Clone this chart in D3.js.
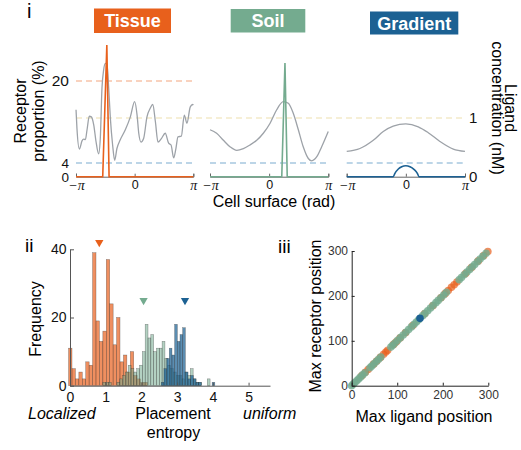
<!DOCTYPE html>
<html>
<head>
<meta charset="utf-8">
<script src="https://cdn.jsdelivr.net/npm/d3@7"></script>
<style>
  body { margin: 0; background: #fff; }
  svg { display: block; font-family: "Liberation Sans", Arial, sans-serif; }
</style>
</head>
<body>
<svg id="fig" width="521" height="450"></svg>
<script>
'use strict'

const PI = Math.PI;

// ---- panel i : receptor / ligand profiles on the cell surface ----
const conditions = ['Tissue', 'Soil', 'Gradient'];
const thetaTicks = [-PI, 0, PI];
const thetaTickLabels = ['\u2212\u03c0', '0', '\u03c0'];
const receptorTicks = [0, 4, 20];
const ligandTicks = [0, 1];

const tissueLigandTheta = [-3.14, -3.09, -2.96, -2.82, -2.73, -2.64, -2.55, -2.43, -2.32, -2.19, -2.07, -1.93,
  -1.84, -1.75, -1.66, -1.57, -1.48, -1.39, -1.30, -1.18, -1.07, -0.95, -0.77, -0.50, -0.23, 0.00, 0.13, 0.22,
  0.34, 0.48, 0.66, 0.84, 0.97, 1.11, 1.25, 1.43, 1.64, 1.82, 1.95, 2.09, 2.21, 2.32, 2.50, 2.66, 2.80, 2.98,
  3.11, 3.14];
const tissueLigand = [1.14, 0.82, 0.47, 0.61, 0.64, 0.63, 0.80, 1.03, 1.02, 0.88, 0.60, 0.39,
  0.65, 1.51, 1.82, 1.93, 1.90, 1.51, 0.99, 0.54, 0.28, 0.48, 0.63, 0.80, 1.02, 1.28, 1.05, 0.74,
  0.59, 0.65, 1.02, 1.17, 1.23, 0.94, 0.59, 0.65, 0.74, 0.57, 0.54, 0.32, 0.48, 0.68, 0.69, 1.05, 0.91, 1.19,
  1.23, 1.22];
const tissueReceptorTheta = [-3.14, -1.71, -1.49, -1.37, 3.14];
const tissueReceptor = [0, 0, 27, 0, 0];

const soilLigandTheta = [-3.14, -2.79, -2.43, -2.08, -1.72, -1.37, -1.02, -0.66, -0.31, 0.05, 0.40, 0.75,
  1.02, 1.28, 1.55, 1.81, 2.08, 2.26, 2.53, 2.79, 3.14];
const soilLigand = [0.80, 0.74, 0.62, 0.51, 0.45, 0.48, 0.54, 0.62, 0.74, 0.91, 1.14, 1.28,
  1.25, 1.08, 0.80, 0.51, 0.31, 0.27, 0.34, 0.51, 0.77];
const soilReceptorTheta = [-3.14, 0.67, 0.84, 0.96, 3.14];
const soilReceptor = [0, 0, 23.5, 0, 0];

const gradientLigandTheta = [-3.14, -2.44, -1.73, -1.20, -0.67, 0, 0.66, 1.19, 1.81, 2.52, 3.14];
const gradientLigand = [0.43, 0.48, 0.62, 0.77, 0.86, 0.90, 0.85, 0.75, 0.60, 0.47, 0.43];
const gradientReceptorTheta = [-3.14, -0.67, -0.58, -0.40, -0.22, 0, 0.22, 0.43, 0.61, 0.70, 3.14];
const gradientReceptor = [0, 0, 1.0, 2.25, 2.92, 3.21, 2.92, 2.15, 1.0, 0, 0];

const receptorThresholdHigh = 20;   // orange dashed, tissue only
const receptorThresholdLow = 4;     // blue dashed
const ligandReference = 1;          // yellow dashed

// ---- panel ii : placement entropy histograms ----
const tissueBinStart = -0.04, tissueBinWidth = 0.096;
const tissueCounts = [11, 5, 2, 4, 2, 7, 6, 39, 19, 13, 16, 37, 24, 12, 20, 7, 9, 4, 10, 3, 2, 1, 1];
const soilBinStart = 0.92, soilBinWidth = 0.079;
const soilCounts = [1, 1, 1, 0, 0, 1, 2, 3, 4, 6, 5, 4, 5, 6, 10, 18, 14, 15, 10, 11, 11, 13,
  8, 6, 5, 4, 3, 3, 2, 4, 3, 5, 2, 1, 1, 0, 0, 2];
const gradientBinStart = 2.555, gradientBinWidth = 0.075;
const gradientCounts = [1, 5, 8, 11, 9, 18, 13, 15, 17, 4, 2, 3, 2, 1, 1, 0, 0, 0, 0, 1];
const entropyMean = [0.82, 2.06, 3.22];
const entropyMarkerY = [42, 25, 25];
const entropyTicks = [0, 1, 2, 3, 4, 5];
const frequencyTicks = [0, 20, 40];

// ---- panel iii : max ligand vs max receptor position ----
const tissueMaxLigand = [22, 30, 36, 48, 55, 63, 70, 75, 79, 92, 98, 106, 118, 134, 160, 178, 196, 205, 212,
  219, 225, 231, 250, 263, 278, 290, 299];
const tissueMaxReceptor = [22, 30, 36, 48, 55, 63, 70, 75, 79, 92, 98, 106, 118, 134, 160, 178, 196, 205, 212,
  219, 225, 231, 250, 263, 278, 290, 299];
const soilMaxLigand = [0, 3, 7, 11, 15, 19, 24, 29, 40, 44, 49, 54, 59, 64, 86, 90, 95, 101, 107, 113,
  119, 125, 131, 137, 142, 147, 156, 161, 167, 173, 179, 185, 190, 196, 202, 208, 236, 241, 247, 253,
  259, 265, 270, 276, 282, 288, 295];
const soilMaxReceptor = [0, 3, 7, 11, 15, 19, 24, 29, 40, 44, 49, 54, 59, 64, 86, 90, 95, 101, 107, 113,
  119, 125, 131, 137, 142, 147, 156, 161, 167, 173, 179, 185, 190, 196, 202, 208, 236, 241, 247, 253,
  259, 265, 270, 276, 282, 288, 295];
const gradientMaxLigand = [150];
const gradientMaxReceptor = [150];
const positionTicks = [0, 100, 200, 300];

const COLORS = ['#e8601c', '#74ab8f', '#1c6193'];
const GREY = '#9da2a8';
const intFmt = d3.format('d');

const svg = d3.select('#fig');
svg.append('rect').attr('width', 521).attr('height', 450).attr('fill', '#fff');

// ================= panel i =================
const xRanges = [[76, 193.3], [210, 328.3], [346.7, 465]];
const boxes = [[94, 8.5, 77, 24.5], [230.7, 9, 74.6, 23.5], [370, 11.5, 88.3, 23]];
const receptorScale = d3.scaleLinear().domain([0, 4, 20]).range([176.7, 163, 81]);
const ligandScale = d3.scaleLinear().domain([0, 1]).range([176.7, 118]);

const profiles = [
  { lt: tissueLigandTheta, lv: tissueLigand, rt: tissueReceptorTheta, rv: tissueReceptor },
  { lt: soilLigandTheta, lv: soilLigand, rt: soilReceptorTheta, rv: soilReceptor },
  { lt: gradientLigandTheta, lv: gradientLigand, rt: gradientReceptorTheta, rv: gradientReceptor }
];

const p1 = svg.append('g');

// yellow ligand reference spans all three plots
p1.append('line')
  .attr('x1', xRanges[0][0]).attr('x2', xRanges[2][1])
  .attr('y1', ligandScale(ligandReference)).attr('y2', ligandScale(ligandReference))
  .attr('stroke', '#eedfae').attr('stroke-width', 1.2).attr('stroke-dasharray', '6,4');

profiles.forEach((p, i) => {
  const x = d3.scaleLinear().domain([-PI, PI]).range(xRanges[i]);
  const g = p1.append('g');

  // title box
  const b = boxes[i];
  g.append('rect').attr('x', b[0]).attr('y', b[1]).attr('width', b[2]).attr('height', b[3])
    .attr('fill', COLORS[i]);
  g.append('text').attr('x', b[0] + b[2] / 2).attr('y', b[1] + b[3] / 2 + 6.5)
    .attr('text-anchor', 'middle').attr('font-size', 18).attr('font-weight', 'bold')
    .attr('fill', '#fff').text(conditions[i]);

  // thresholds
  if (i === 0) {
    g.append('line').attr('x1', xRanges[i][0]).attr('x2', xRanges[i][1])
      .attr('y1', receptorScale(receptorThresholdHigh)).attr('y2', receptorScale(receptorThresholdHigh))
      .attr('stroke', '#f3a57e').attr('stroke-width', 1.2).attr('stroke-dasharray', '6,4');
  }
  g.append('line').attr('x1', xRanges[i][0]).attr('x2', xRanges[i][1])
    .attr('y1', receptorScale(receptorThresholdLow)).attr('y2', receptorScale(receptorThresholdLow))
    .attr('stroke', '#a6c7df').attr('stroke-width', 1.5).attr('stroke-dasharray', '6,4');

  // x axis
  const ax = d3.axisBottom(x).tickValues(thetaTicks).tickSize(-3).tickPadding(3.5)
    .tickFormat((d, k) => thetaTickLabels[k]);
  const axg = g.append('g').attr('transform', 'translate(0,176.7)').call(ax);
  axg.select('.domain').attr('stroke', '#666');
  axg.selectAll('.tick line').attr('stroke', '#666');
  axg.selectAll('.tick text').attr('fill', '#111')
    .attr('font-family', (d, k) => thetaTickLabels[k] === '0' ? null : '"Liberation Serif", serif')
    .attr('font-style', (d, k) => thetaTickLabels[k] === '0' ? null : 'italic')
    .attr('font-size', (d, k) => thetaTickLabels[k] === '0' ? 12.5 : 14);

  // ligand
  const ligLine = d3.line().x(d => x(d[0])).y(d => ligandScale(d[1])).curve(d3.curveMonotoneX);
  g.append('path').datum(p.lt.map((t, k) => [t, p.lv[k]]))
    .attr('d', ligLine).attr('fill', 'none').attr('stroke', GREY).attr('stroke-width', 1.3);

  // receptor
  const recLine = d3.line().x(d => x(d[0])).y(d => receptorScale(d[1]))
    .curve(i === 2 ? d3.curveMonotoneX : d3.curveLinear);
  g.append('path').datum(p.rt.map((t, k) => [t, p.rv[k]]))
    .attr('d', recLine).attr('fill', 'none').attr('stroke', COLORS[i]).attr('stroke-width', 1.6);
});

// left axis (receptor)
const la = d3.axisLeft(receptorScale).tickValues(receptorTicks).tickSize(0).tickPadding(3).tickFormat(intFmt);
const lag = p1.append('g').attr('transform', 'translate(72,0)').call(la);
lag.select('.domain').remove();
lag.selectAll('.tick text').attr('font-size', (d) => d === 20 ? 15.5 : 13.5).attr('fill', '#111');

// right axis (ligand)
const ra = d3.axisRight(ligandScale).tickValues(ligandTicks).tickSize(0).tickPadding(4).tickFormat(intFmt);
const rag = p1.append('g').attr('transform', 'translate(465,0)').call(ra);
rag.select('.domain').remove();
rag.selectAll('.tick text').attr('font-size', 15).attr('fill', '#111');

p1.append('text').attr('x', 27).attr('y', 18).attr('font-size', 20).text('i');
p1.append('text').attr('transform', 'translate(26,111) rotate(-90)').attr('text-anchor', 'middle')
  .attr('font-size', 16).text('Receptor');
p1.append('text').attr('transform', 'translate(44,111) rotate(-90)').attr('text-anchor', 'middle')
  .attr('font-size', 16).text('proportion (%)');
p1.append('text').attr('transform', 'translate(505,108) rotate(90)').attr('text-anchor', 'middle')
  .attr('font-size', 16).text('Ligand');
p1.append('text').attr('transform', 'translate(492,108) rotate(90)').attr('text-anchor', 'middle')
  .attr('font-size', 16).text('concentration (nM)');
p1.append('text').attr('x', 274).attr('y', 207).attr('text-anchor', 'middle')
  .attr('font-size', 16).text('Cell surface (rad)');

// ================= panel ii =================
const hx = d3.scaleLinear().domain([0, 5.6]).range([70, 270]);
const hy = d3.scaleLinear().domain([0, 40]).range([385.7, 249.3]);
const hist = [
  { counts: tissueCounts, start: tissueBinStart, width: tissueBinWidth, op: 0.7 },
  { counts: soilCounts, start: soilBinStart, width: soilBinWidth, op: 0.55 },
  { counts: gradientCounts, start: gradientBinStart, width: gradientBinWidth, op: 0.72 }
];
const p2 = svg.append('g');
hist.forEach((h, i) => {
  const bars = h.counts.map((c, k) => ({ x0: h.start + k * h.width, x1: h.start + (k + 1) * h.width, c }))
    .filter(d => d.c > 0);
  p2.append('g').selectAll('rect').data(bars).enter().append('rect')
    .attr('x', d => hx(d.x0)).attr('width', d => hx(d.x1) - hx(d.x0))
    .attr('y', d => hy(d.c)).attr('height', d => hy(0) - hy(d.c))
    .attr('fill', COLORS[i]).attr('fill-opacity', h.op)
    .attr('stroke', '#222').attr('stroke-opacity', 0.5).attr('stroke-width', 0.5);
});
p2.selectAll('path.mark').data(entropyMean).enter().append('path').attr('class', 'mark')
  .attr('d', d3.symbol(d3.symbolTriangle, 30))
  .attr('transform', (d, k) => `translate(${hx(d)},${hy(entropyMarkerY[k])}) rotate(180)`)
  .attr('fill', (d, k) => COLORS[k]);

const hxa = p2.append('g').attr('transform', 'translate(0,385.7)')
  .call(d3.axisBottom(hx).tickValues(entropyTicks).tickSize(-3).tickSizeOuter(0).tickPadding(6.5).tickFormat(intFmt));
const hya = p2.append('g').attr('transform', 'translate(70,0)')
  .call(d3.axisLeft(hy).tickValues(frequencyTicks).tickSize(-4).tickSizeOuter(0).tickPadding(3.5).tickFormat(intFmt));
[hxa, hya].forEach(a => {
  a.select('.domain').attr('stroke', '#555');
  a.selectAll('.tick line').attr('stroke', '#555');
  a.selectAll('.tick text').attr('font-size', 14).attr('fill', '#111');
});
p2.append('text').attr('x', 25).attr('y', 252).attr('font-size', 19).text('ii');
p2.append('text').attr('transform', 'translate(41,319) rotate(-90)').attr('text-anchor', 'middle')
  .attr('font-size', 16).text('Frequency');
p2.append('text').attr('x', 28).attr('y', 419).attr('font-size', 16).attr('font-style', 'italic').text('Localized');
p2.append('text').attr('x', 173).attr('y', 419).attr('text-anchor', 'middle').attr('font-size', 16).text('Placement');
p2.append('text').attr('x', 173.5).attr('y', 438).attr('text-anchor', 'middle').attr('font-size', 16).text('entropy');
p2.append('text').attr('x', 243).attr('y', 419).attr('font-size', 16).attr('font-style', 'italic').text('uniform');

// ================= panel iii =================
const sx = d3.scaleLinear().domain([0, 300]).range([351.7, 488.3]);
const sy = d3.scaleLinear().domain([0, 300]).range([385.7, 251]);
const p3 = svg.append('g');
const scat = [
  { x: tissueMaxLigand, y: tissueMaxReceptor, op: 0.7 },
  { x: soilMaxLigand, y: soilMaxReceptor, op: 0.82 },
  { x: gradientMaxLigand, y: gradientMaxReceptor, op: 1 }
];
scat.forEach((s, i) => {
  p3.append('g').selectAll('circle').data(s.x.map((v, k) => [v, s.y[k]])).enter().append('circle')
    .attr('cx', d => sx(d[0])).attr('cy', d => sy(d[1])).attr('r', 3.8)
    .attr('fill', COLORS[i]).attr('fill-opacity', s.op);
});
const sxa = p3.append('g').attr('transform', 'translate(0,385.7)')
  .call(d3.axisBottom(sx).tickValues(positionTicks).tickSize(-3).tickSizeOuter(0).tickPadding(4.8).tickFormat(intFmt));
const sya = p3.append('g').attr('transform', 'translate(351.7,0)')
  .call(d3.axisLeft(sy).tickValues(positionTicks).tickSize(-3).tickSizeOuter(0).tickPadding(3.7).tickFormat(intFmt));
[sxa, sya].forEach(a => {
  a.select('.domain').attr('stroke', '#222');
  a.selectAll('.tick line').attr('stroke', '#222');
  a.selectAll('.tick text').attr('font-size', 12).attr('fill', '#333');
});
p3.append('text').attr('x', 278).attr('y', 253).attr('font-size', 19).text('iii');
p3.append('text').attr('transform', 'translate(321,316) rotate(-90)').attr('text-anchor', 'middle')
  .attr('font-size', 16).text('Max receptor position');
p3.append('text').attr('x', 424).attr('y', 421.7).attr('text-anchor', 'middle')
  .attr('font-size', 16).text('Max ligand position');
</script>
</body>
</html>
